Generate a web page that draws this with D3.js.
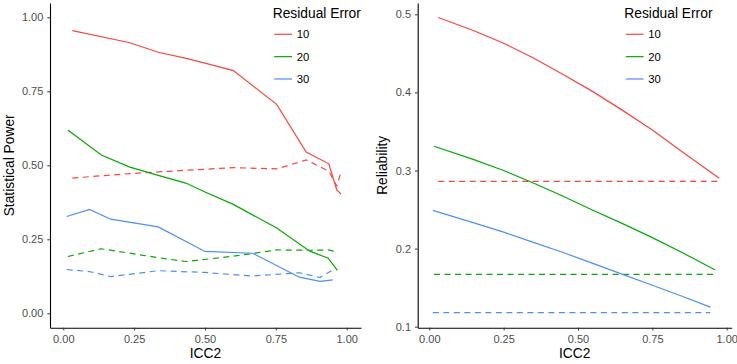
<!DOCTYPE html>
<html>
<head>
<meta charset="utf-8">
<script src="https://cdn.jsdelivr.net/npm/d3@7"></script>
<style>
  body { margin: 0; background: #fff; }
  svg { display: block; font-family: "Liberation Sans", Arial, sans-serif; }
</style>
</head>
<body>
<div id="chart"></div>
<script>
// legend groups (residual error)
const groups = ["10", "20", "30"];
const legendTitle = "Residual Error";

// left panel: statistical power vs ICC2, [ICC2, power]
const powerSolid10 = [[0.032,0.955],[0.235,0.914],[0.335,0.882],[0.43,0.862],[0.5,0.845],[0.6,0.820],[0.753,0.706],[0.857,0.545],[0.937,0.505],[0.965,0.417],[0.980,0.403]];
const powerSolid20 = [[0.016,0.619],[0.134,0.535],[0.235,0.494],[0.335,0.466],[0.432,0.440],[0.5,0.410],[0.6,0.368],[0.753,0.288],[0.870,0.210],[0.935,0.186],[0.967,0.145]];
const powerSolid30 = [[0.012,0.327],[0.093,0.351],[0.167,0.318],[0.335,0.292],[0.5,0.209],[0.668,0.203],[0.833,0.122],[0.906,0.108],[0.951,0.113]];
const powerDashed10 = [[0.032,0.457],[0.235,0.472],[0.43,0.483],[0.6,0.492],[0.753,0.488],[0.857,0.518],[0.937,0.480],[0.965,0.430],[0.980,0.478]];
const powerDashed20 = [[0.016,0.192],[0.134,0.218],[0.335,0.188],[0.432,0.175],[0.6,0.193],[0.753,0.214],[0.870,0.213],[0.935,0.214],[0.967,0.207]];
const powerDashed30 = [[0.012,0.148],[0.093,0.141],[0.167,0.124],[0.335,0.144],[0.5,0.138],[0.668,0.126],[0.833,0.137],[0.906,0.121],[0.951,0.146]];

// right panel: reliability vs ICC2
const relSolid10 = [[0.03,0.496],[0.15,0.479],[0.25,0.463],[0.35,0.444],[0.45,0.423],[0.55,0.401],[0.65,0.377],[0.75,0.352],[0.85,0.324],[0.975,0.290]];
const relSolid20 = [[0.016,0.331],[0.15,0.314],[0.25,0.300],[0.35,0.284],[0.45,0.267],[0.55,0.249],[0.65,0.232],[0.75,0.214],[0.85,0.195],[0.96,0.173]];
const relSolid30 = [[0.012,0.249],[0.15,0.233],[0.25,0.221],[0.35,0.208],[0.45,0.195],[0.55,0.181],[0.65,0.167],[0.75,0.153],[0.85,0.139],[0.945,0.125]];
const relDashed10 = [[0.03,0.286],[0.975,0.286]];
const relDashed20 = [[0.016,0.167],[0.96,0.167]];
const relDashed30 = [[0.012,0.118],[0.945,0.118]];

const xTicks = [0, 0.25, 0.5, 0.75, 1];
const powerTicks = [0, 0.25, 0.5, 0.75, 1];
const relTicks = [0.1, 0.2, 0.3, 0.4, 0.5];

const colors = ["#f8463f", "#07a807", "#4d8ff7"];

const W = 737, H = 364;
const svg = d3.select("#chart").append("svg").attr("width", W).attr("height", H);

function panel(cfg) {
    const x = d3.scaleLinear().domain(cfg.xDomain).range([cfg.left, cfg.right]);
    const y = d3.scaleLinear().domain(cfg.yDomain).range([cfg.bottom, cfg.top]);
    const g = svg.append("g");

    const line = d3.line().x(d => x(d[0])).y(d => y(d[1]));

    // dashed first, then solid
    cfg.dashed.forEach((s, i) => {
        g.append("path").attr("d", line(s))
            .attr("fill", "none").attr("stroke", colors[i])
            .attr("stroke-width", 1.2).attr("stroke-dasharray", "6,4.5");
    });
    cfg.solid.forEach((s, i) => {
        g.append("path").attr("d", line(s))
            .attr("fill", "none").attr("stroke", colors[i])
            .attr("stroke-width", 1.2);
    });

    const xa = g.append("g").attr("transform", "translate(0," + cfg.bottom + ")")
        .call(d3.axisBottom(x).tickValues(xTicks).tickFormat(d3.format(".2f"))
            .tickSizeInner(2.7).tickSizeOuter(0).tickPadding(4.5));
    const ya = g.append("g").attr("transform", "translate(" + cfg.left + ",0)")
        .call(d3.axisLeft(y).tickValues(cfg.yTicks).tickFormat(d3.format(cfg.yFormat))
            .tickSizeInner(2.7).tickSizeOuter(0).tickPadding(4));
    [xa, ya].forEach(a => {
        a.select(".domain").attr("stroke", "#000").attr("stroke-width", 1.1);
        a.selectAll(".tick line").attr("stroke", "#333").attr("stroke-width", 1);
        a.selectAll(".tick text").attr("fill", "#4d4d4d")
            .style("font-size", "11px").style("font-family", "Liberation Sans, Arial, sans-serif");
    });

    g.append("text").attr("x", (cfg.left + cfg.right) / 2).attr("y", 358)
        .attr("text-anchor", "middle").style("font-size", "13.8px").text("ICC2");
    g.append("text").attr("transform", "translate(" + cfg.yTitleX + "," + ((cfg.top + cfg.bottom) / 2) + ") rotate(-90)")
        .attr("text-anchor", "middle").style("font-size", "13.8px").text(cfg.yTitle);

    // legend
    const lg = g.append("g").attr("transform", "translate(" + cfg.legendX + ",0)");
    lg.append("text").attr("x", 0).attr("y", 18).style("font-size", "13.8px").text(legendTitle);
    groups.forEach((k, i) => {
        const yy = 34.3 + i * 22.35;
        lg.append("line").attr("x1", 1.5).attr("x2", 19.3).attr("y1", yy).attr("y2", yy)
            .attr("stroke", colors[i]).attr("stroke-width", 1.2);
        lg.append("text").attr("x", 24).attr("y", yy + 4).style("font-size", "11.3px").text(k);
    });
}

panel({
    left: 50, right: 361, top: 3, bottom: 327.7,
    xDomain: [-0.0469, 1.0505], yDomain: [-0.0486, 1.0483],
    yTicks: powerTicks, yFormat: ".2f", yTitle: "Statistical Power", yTitleX: 14,
    solid: [powerSolid10, powerSolid20, powerSolid30],
    dashed: [powerDashed10, powerDashed20, powerDashed30],
    legendX: 272.7
});

panel({
    left: 417.7, right: 731.7, top: 3, bottom: 327.7,
    xDomain: [-0.039, 1.0168], yDomain: [0.0987, 0.5145],
    yTicks: relTicks, yFormat: ".1f", yTitle: "Reliability", yTitleX: 387,
    solid: [relSolid10, relSolid20, relSolid30],
    dashed: [relDashed10, relDashed20, relDashed30],
    legendX: 624.3
});
</script>
</body>
</html>
